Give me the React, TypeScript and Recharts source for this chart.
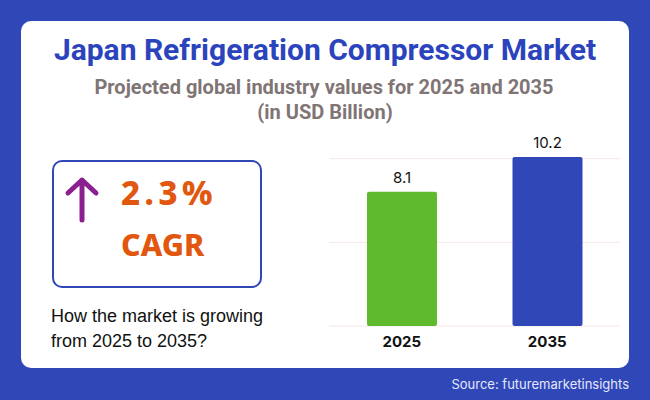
import { Bar, BarChart, CartesianGrid, Cell, LabelList, XAxis, YAxis } from "recharts";

const years = ["2025", "2035"];
const values = [8.1, 10.2];
const barColors = ["#5fba2d", "#3047b8"];
const gridTicks = [0, 5.05, 10.1];

const data = years.map((year, i) => ({ year, value: values[i] }));

const text = (left: number, top: number, width: number, style: any): any => ({
    position: "absolute",
    left,
    top,
    width,
    whiteSpace: "nowrap",
    ...style,
});

export default function App() {
    return (
        <div style={{ position: "absolute", left: 0, top: 0, width: 650, height: 400, background: "#3047b8", overflow: "hidden" }}>
            <div style={{ position: "absolute", left: 21, top: 21, width: 608, height: 347, background: "#fff", borderRadius: 10 }} />

            <div style={text(21, 32, 608, { textAlign: "center", font: "700 30px Roboto", lineHeight: "36px", color: "#2b44bd" })}>
                Japan Refrigeration Compressor Market
            </div>
            <div style={text(20, 75, 608, { textAlign: "center", font: "700 20px Roboto", lineHeight: "24px", color: "#7f7575" })}>
                Projected global industry values for 2025 and 2035
            </div>
            <div style={text(21, 100, 608, { textAlign: "center", font: "700 20px Roboto", lineHeight: "24px", color: "#7f7575" })}>
                (in USD Billion)
            </div>

            <div style={{ position: "absolute", left: 52, top: 160, width: 206, height: 124, border: "2px solid #3047b8", borderRadius: 10 }} />
            <svg style={{ position: "absolute", left: 60, top: 172 }} width={44} height={56}>
                <path d="M22 8 V48 M8 21 L22 8 L36 21" fill="none" stroke="#8b1f8f" strokeWidth={5} strokeLinecap="round" strokeLinejoin="round" />
            </svg>
            <div style={text(121, 173, 130, { font: "800 33px 'Noto Sans'", lineHeight: "40px", letterSpacing: 4.5, color: "#e2570f" })}>2.3%</div>
            <div style={text(121, 224, 130, { font: "800 30.5px 'Noto Sans'", lineHeight: "40px", color: "#e2570f" })}>CAGR</div>

            <div style={text(51, 304, 230, { font: "400 18px 'Liberation Sans'", lineHeight: "24.5px", color: "#111" })}>
                How the market is growing
                <br />
                from 2025 to 2035?
            </div>

            <div style={{ position: "absolute", left: 300, top: 120 }}>
                <BarChart width={340} height={250} data={data} margin={{ top: 37, right: 20, bottom: 0, left: 29 }}>
                    <CartesianGrid vertical={false} stroke="#f6e6e6" horizontalValues={gridTicks} />
                    <YAxis hide domain={[0, 10.2]} ticks={gridTicks} />
                    <XAxis
                        dataKey="year"
                        height={44}
                        axisLine={false}
                        tickLine={false}
                        tickMargin={4}
                        tick={{ fill: "#111", fontSize: 15, fontWeight: 700, fontFamily: "Inter" }}
                    />
                    <Bar dataKey="value" barSize={70} radius={2} isAnimationActive={false}>
                        {data.map((d, i) => (
                            <Cell key={d.year} fill={barColors[i]} />
                        ))}
                        <LabelList dataKey="value" position="top" offset={9} fill="#111" fontSize={15} fontFamily="Inter" />
                    </Bar>
                </BarChart>
            </div>

            <div style={text(380, 375, 249, { textAlign: "right", font: "400 13px Inter", lineHeight: "18px", color: "#e4e7fb" })}>
                Source: futuremarketinsights
            </div>
        </div>
    );
}
